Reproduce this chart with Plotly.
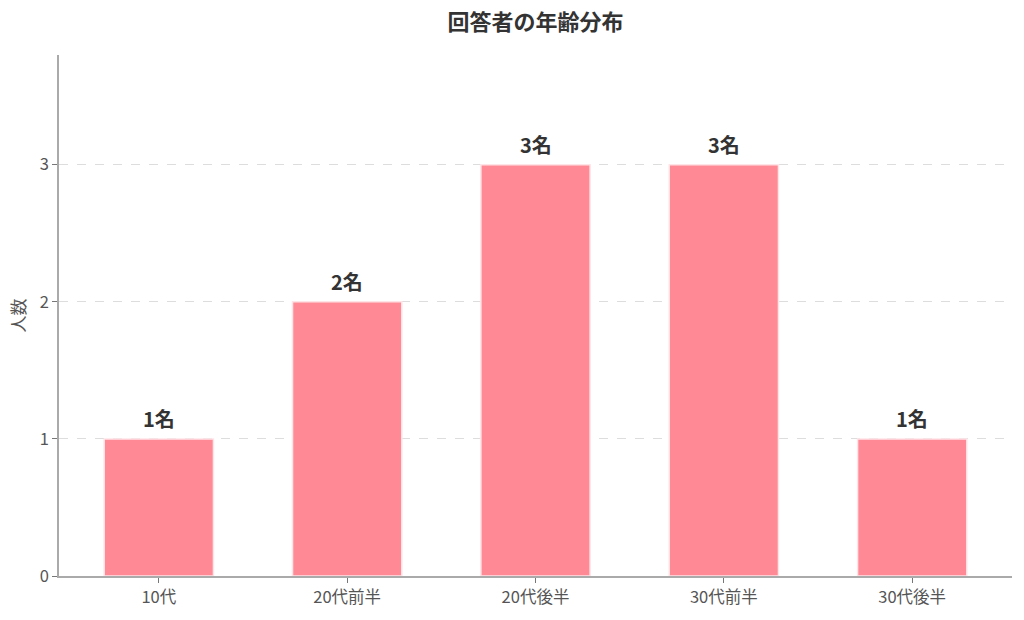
import plotly.graph_objects as go

# age groups and respondent counts
age_groups = ["10代", "20代前半", "20代後半", "30代前半", "30代後半"]
counts = [1, 2, 3, 3, 1]
labels = [f"{c}名" for c in counts]

FONT = "Noto Sans CJK JP"
BAR_COLOR = "#FF8A95"

fig = go.Figure()

fig.add_trace(go.Bar(
    x=age_groups,
    y=counts,
    width=0.58,
    marker=dict(color=BAR_COLOR, line=dict(color="#FFE4E7", width=1.5)),
    hoverinfo="x+y",
    showlegend=False
))

# value labels above each bar
annotations = [
    dict(
        x=g, y=c, text=f"<b>{t}</b>",
        xref="x", yref="y",
        showarrow=False, yanchor="bottom", yshift=4,
        font=dict(family=FONT, size=20, color="#333333")
    )
    for g, c, t in zip(age_groups, counts, labels)
]

fig.update_layout(
    width=1024,
    height=620,
    paper_bgcolor="white",
    plot_bgcolor="white",
    margin=dict(l=59, r=12, t=55, b=41),
    font=dict(family=FONT, color="#555555", size=16),
    title=dict(
        text="<b>回答者の年齢分布</b>",
        x=0.5, xanchor="center", xref="paper",
        y=0.9645, yanchor="middle",
        font=dict(family=FONT, size=22, color="#333333")
    ),
    xaxis=dict(
        range=[-0.53, 4.53],
        showline=True, linecolor="#AAAAAA", linewidth=1.5,
        ticks="outside", ticklen=5, tickcolor="#777777",
        showgrid=False,
        tickfont=dict(size=16.5, color="#555555")
    ),
    yaxis=dict(
        range=[0, 3.8],
        tickvals=[0, 1, 2, 3],
        showline=True, linecolor="#AAAAAA", linewidth=1.5,
        ticks="outside", ticklen=5, tickcolor="#777777",
        showgrid=True, gridcolor="#DDDDDD", griddash="dash", gridwidth=1,
        zeroline=False,
        title=dict(text="人数", standoff=10, font=dict(size=17, color="#555555")),
        tickfont=dict(size=16.5, color="#555555")
    ),
    annotations=annotations
)

# drop the default body margin so the figure fills the window exactly
fig.write_html(
    "out.html",
    config={"displayModeBar": False},
    post_script="document.body.style.margin='0';"
)
